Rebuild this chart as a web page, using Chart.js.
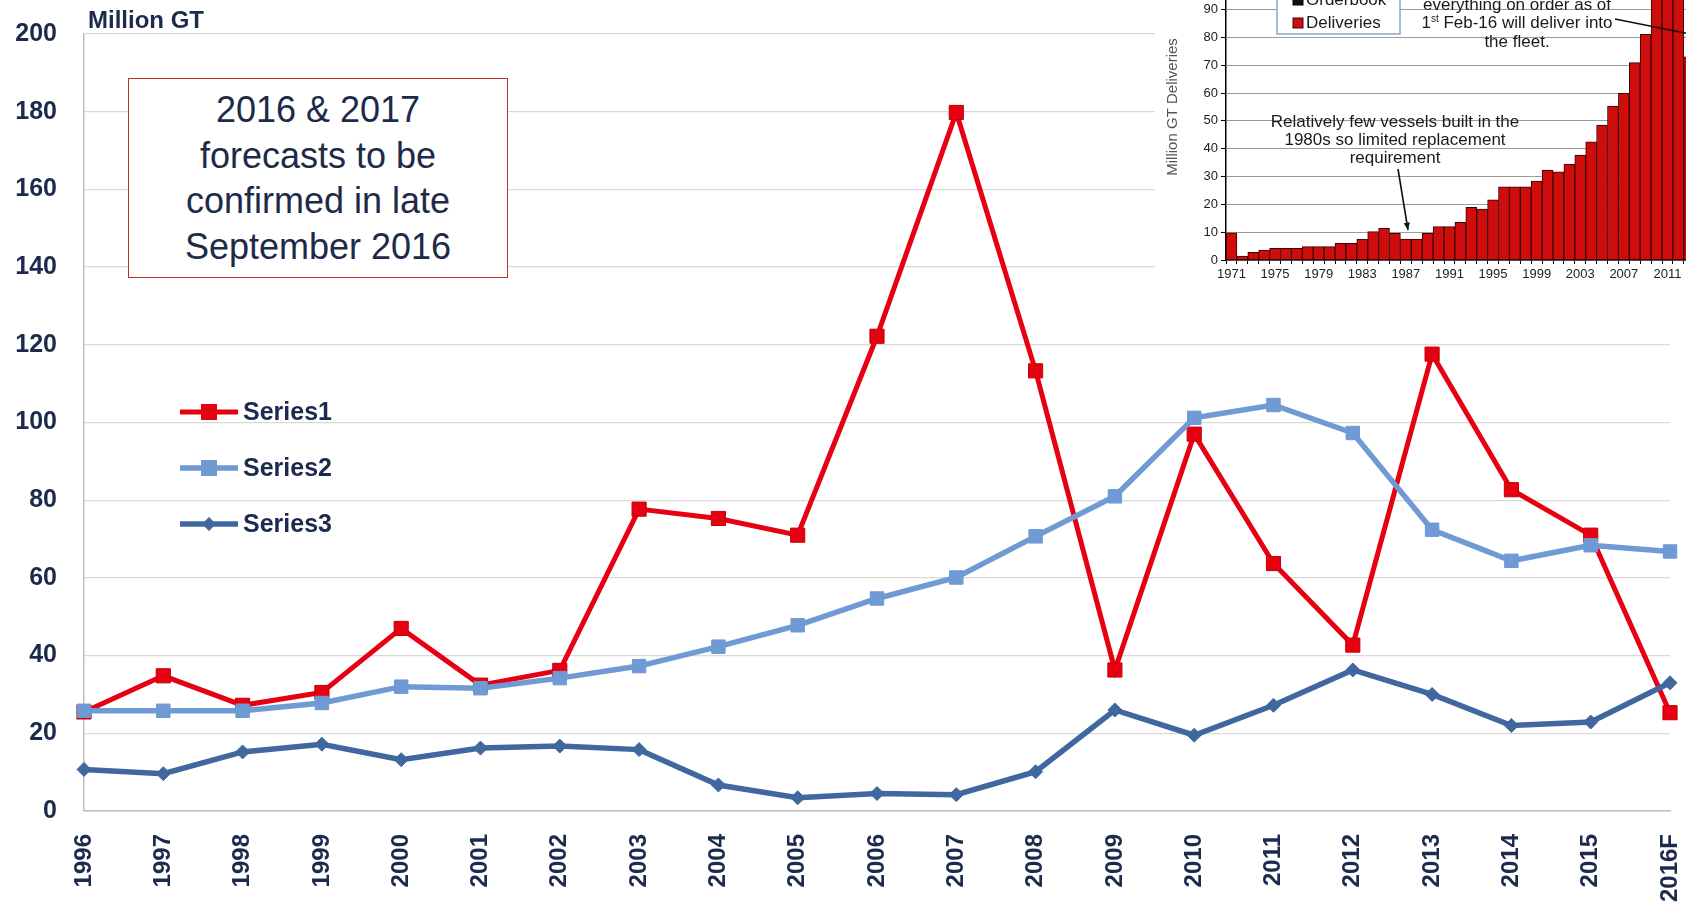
<!DOCTYPE html>
<html>
<head>
<meta charset="utf-8">
<script src="https://cdn.jsdelivr.net/npm/chart.js@4.4.0/dist/chart.umd.min.js"></script>
<style>
  body { margin: 0; background: #fff; }
  #wrap { position: relative; width: 1686px; height: 910px; overflow: hidden; }
  #mainChart { position: absolute; left: 0; top: 0; }
  #note {
    position: absolute; left: 128px; top: 78px; width: 380px; height: 200px;
    box-sizing: border-box; border: 1.5px solid #b8322f; background: #fff;
    display: flex; align-items: center; justify-content: center; text-align: center;
    font: 36px "Liberation Sans", Arial, sans-serif; line-height: 45.5px; color: #1d2a48;
  }
  #inset { position: absolute; left: 1155px; top: 0; width: 531px; height: 285px; overflow: hidden; background: #fff; }
  #insetChart { position: absolute; left: 0; top: -60px; }
</style>
</head>
<body>
<div id="wrap">
  <canvas id="mainChart" width="1686" height="910"></canvas>
  <div id="note">2016 &amp; 2017<br>forecasts to be<br>confirmed in late<br>September 2016</div>
  <div id="inset"><canvas id="insetChart" width="560" height="360"></canvas></div>
</div>
<script>
// main chart data (Million GT)
var years = ["1996", "1997", "1998", "1999", "2000", "2001", "2002", "2003", "2004", "2005", "2006",
  "2007", "2008", "2009", "2010", "2011", "2012", "2013", "2014", "2015", "2016F"];
var series1 = [25.5, 34.8, 27.2, 30.5, 47.0, 32.4, 36.2, 77.7, 75.3, 71.0, 122.2,
  179.8, 113.3, 36.3, 97.0, 63.7, 42.7, 117.6, 82.7, 71.0, 25.3];
var series2 = [25.8, 25.8, 25.8, 27.8, 32.0, 31.6, 34.2, 37.3, 42.3, 47.8, 54.7,
  60.1, 70.7, 81.0, 101.2, 104.5, 97.3, 72.4, 64.4, 68.4, 66.8];
var series3 = [10.7, 9.6, 15.2, 17.2, 13.2, 16.2, 16.7, 15.8, 6.7, 3.4, 4.5,
  4.2, 10.1, 26.0, 19.5, 27.2, 36.3, 30.0, 22.0, 22.9, 33.0];
var yTicks = [0, 20, 40, 60, 80, 100, 120, 140, 160, 180, 200];

// inset picture: deliveries 1971-2013 (cropped at the right edge)
var insetYears = [];
for (var yr = 1971; yr <= 2013; yr++) insetYears.push(String(yr));
var deliveries = [9.8, 1.4, 2.8, 3.6, 4.2, 4.2, 4.2, 4.8, 4.8, 4.8,
  6.0, 6.0, 7.5, 10.2, 11.4, 9.6, 7.5, 7.5, 9.6, 12.0,
  12.0, 13.5, 18.9, 18.3, 21.6, 26.3, 26.3, 26.3, 28.4, 32.3,
  31.7, 34.5, 37.7, 42.5, 48.5, 55.3, 59.9, 70.9, 81.1, 101.0,
  104.5, 97.0, 73.0];
var orderbook = []; // orderbook bars lie outside the cropped part

var font = '"Liberation Sans", Arial, sans-serif';
var navy = "#1c2b4d";
var red = "#e60012";
var lightBlue = "#6f9ad4";
var darkBlue = "#41679f";

function noPad(s) {
  s.paddingLeft = 0;
  s.paddingRight = 0;
  s.paddingTop = 0;
  s.paddingBottom = 0;
}

var mainDecor = {
  id: "mainDecor",
  afterDraw: function (chart) {
    var ctx = chart.ctx;
    ctx.save();
    ctx.fillStyle = navy;
    ctx.textBaseline = "middle";
    ctx.font = "bold 24px " + font;
    ctx.fillText("Million GT", 88, 21);

    // legend inside the plot
    ctx.font = "bold 25px " + font;
    chart.data.datasets.forEach(function (ds, i) {
      var y = 412 + i * 56;
      ctx.strokeStyle = ds.borderColor;
      ctx.lineWidth = ds.borderWidth;
      ctx.beginPath();
      ctx.moveTo(180, y);
      ctx.lineTo(238, y);
      ctx.stroke();
      ctx.fillStyle = ds.pointBackgroundColor;
      if (ds.pointStyle === "rectRot") {
        ctx.beginPath();
        ctx.moveTo(209 - 7, y);
        ctx.lineTo(209, y - 7);
        ctx.lineTo(209 + 7, y);
        ctx.lineTo(209, y + 7);
        ctx.closePath();
        ctx.fill();
      } else {
        ctx.fillRect(209 - 8, y - 8, 16, 16);
      }
      ctx.fillStyle = navy;
      ctx.fillText(ds.label, 243, y + 1);
    });
    ctx.restore();
  }
};

new Chart("mainChart", {
  type: "line",
  data: {
    labels: years,
    datasets: [{
      label: "Series1",
      data: series1,
      borderColor: red,
      borderWidth: 5,
      pointStyle: "rect",
      pointRadius: 10,
      pointBorderWidth: 1,
      pointBackgroundColor: red,
      pointBorderColor: "#c40000",
      clip: false,
      order: 3
    }, {
      label: "Series2",
      data: series2,
      borderColor: lightBlue,
      borderWidth: 5.5,
      pointStyle: "rect",
      pointRadius: 9.5,
      pointBorderWidth: 1,
      pointBackgroundColor: lightBlue,
      pointBorderColor: lightBlue,
      clip: false,
      order: 2
    }, {
      label: "Series3",
      data: series3,
      borderColor: darkBlue,
      borderWidth: 5.5,
      pointStyle: "rectRot",
      pointRadius: 7,
      pointBorderWidth: 1,
      pointBackgroundColor: darkBlue,
      pointBorderColor: darkBlue,
      clip: false,
      order: 1
    }]
  },
  options: {
    responsive: false,
    animation: false,
    layout: { padding: { left: 0, top: 34, right: 16, bottom: 0 } },
    plugins: { legend: { display: false }, tooltip: { enabled: false } },
    elements: { line: { tension: 0 } },
    scales: {
      x: {
        grid: { display: false },
        border: { display: true, color: "#bfbfbf", width: 1.5 },
        ticks: {
          autoSkip: false, minRotation: 90, maxRotation: 90, padding: 15,
          color: navy, font: { family: font, size: 24, weight: "bold" }
        },
        afterFit: function (s) { s.height = 99; noPad(s); }
      },
      y: {
        min: 0, max: 200,
        afterBuildTicks: function (s) { s.ticks = yTicks.map(function (v) { return { value: v }; }); },
        grid: { color: "#d9d9d9", lineWidth: 1.3, drawTicks: false },
        border: { display: true, color: "#bfbfbf", width: 1.5 },
        ticks: { padding: 27, color: navy, font: { family: font, size: 25, weight: "bold" } },
        afterFit: function (s) { s.width = 84; noPad(s); }
      }
    }
  },
  plugins: [mainDecor]
});

// inset canvas sits at page (1155, -60)
function px(x) { return x - 1155; }
function py(y) { return y + 60; }

function arrow(ctx, x1, y1, x2, y2, head) {
  ctx.beginPath();
  ctx.moveTo(x1, y1);
  ctx.lineTo(x2, y2);
  ctx.stroke();
  if (head) {
    var a = Math.atan2(y2 - y1, x2 - x1);
    ctx.beginPath();
    ctx.moveTo(x2, y2);
    ctx.lineTo(x2 - 8 * Math.cos(a - 0.4), y2 - 8 * Math.sin(a - 0.4));
    ctx.lineTo(x2 - 8 * Math.cos(a + 0.4), y2 - 8 * Math.sin(a + 0.4));
    ctx.closePath();
    ctx.fill();
  }
}

var insetDecor = {
  id: "insetDecor",
  afterDraw: function (chart) {
    var ctx = chart.ctx;
    ctx.save();
    // legend box
    ctx.fillStyle = "#fff";
    ctx.fillRect(px(1277), py(-30), 123, 64);
    ctx.strokeStyle = "#8aa6c4";
    ctx.lineWidth = 1.5;
    ctx.strokeRect(px(1277), py(-30), 123, 64);
    ctx.font = "17px " + font;
    ctx.textBaseline = "middle";
    chart.data.datasets.forEach(function (ds, i) {
      var y = py(0 + i * 23);
      ctx.fillStyle = ds.backgroundColor;
      ctx.fillRect(px(1293), y - 5, 10, 10);
      ctx.strokeStyle = ds.borderColor;
      ctx.lineWidth = 1;
      ctx.strokeRect(px(1293), y - 5, 10, 10);
      ctx.fillStyle = "#1a1a1a";
      ctx.fillText(ds.label, px(1306), y);
    });

    // upper note
    ctx.fillStyle = "#1a1a1a";
    ctx.textAlign = "center";
    ctx.fillText("everything on order as of", px(1517), py(5));
    ctx.fillText("the fleet.", px(1517), py(42));
    var rest = " Feb-16 will deliver into";
    ctx.font = "17px " + font;
    var w1 = ctx.measureText("1").width;
    var w3 = ctx.measureText(rest).width;
    ctx.font = "10px " + font;
    var w2 = ctx.measureText("st").width;
    var x0 = px(1517) - (w1 + w2 + w3) / 2;
    ctx.textAlign = "left";
    ctx.font = "17px " + font;
    ctx.fillText("1", x0, py(23.5));
    ctx.fillText(rest, x0 + w1 + w2, py(23.5));
    ctx.font = "10px " + font;
    ctx.fillText("st", x0 + w1, py(19));

    // lower note
    ctx.textAlign = "center";
    ctx.font = "17px " + font;
    ctx.fillText("Relatively few vessels built in the", px(1395), py(122));
    ctx.fillText("1980s so limited replacement", px(1395), py(140));
    ctx.fillText("requirement", px(1395), py(158));

    ctx.strokeStyle = "#111";
    ctx.fillStyle = "#111";
    ctx.lineWidth = 1.6;
    arrow(ctx, px(1615), py(19), px(1700), py(36), false);
    arrow(ctx, px(1398), py(169), px(1408), py(230), true);
    ctx.restore();
  }
};

new Chart("insetChart", {
  type: "bar",
  data: {
    labels: insetYears,
    datasets: [{
      label: "Orderbook",
      data: orderbook,
      backgroundColor: "#111111",
      borderColor: "#000000",
      borderWidth: 1,
      stack: "s"
    }, {
      label: "Deliveries",
      data: deliveries,
      backgroundColor: "#d00d0d",
      borderColor: "#3c0000",
      borderWidth: 1,
      stack: "s"
    }]
  },
  options: {
    responsive: false,
    animation: false,
    layout: { padding: { left: 0, top: 13.9, right: 20.3, bottom: 0 } },
    plugins: { legend: { display: false }, tooltip: { enabled: false } },
    datasets: { bar: { barPercentage: 1, categoryPercentage: 1 } },
    scales: {
      x: {
        stacked: true,
        grid: { display: true, drawOnChartArea: false, drawTicks: true, tickLength: 4, color: "#000" },
        border: { color: "#000", width: 1.5 },
        ticks: {
          autoSkip: false, minRotation: 0, maxRotation: 0, padding: 3,
          color: "#222", font: { family: font, size: 13 },
          callback: function (v, i) { return i % 4 === 0 ? insetYears[i] : ""; }
        },
        afterFit: function (s) { s.height = 40; noPad(s); }
      },
      y: {
        stacked: true,
        min: 0, max: 110,
        ticks: { stepSize: 10, padding: 3, color: "#222", font: { family: font, size: 13 } },
        grid: { color: "#9c9c9c", tickColor: "#000", tickLength: 5 },
        border: { color: "#000", width: 1.5 },
        title: {
          display: true, text: "Million GT Deliveries", color: "#555",
          font: { family: font, size: 15 }, padding: { top: 9, bottom: 0 }
        },
        afterFit: function (s) { s.width = 71; noPad(s); }
      }
    }
  },
  plugins: [insetDecor]
});
</script>
</body>
</html>
